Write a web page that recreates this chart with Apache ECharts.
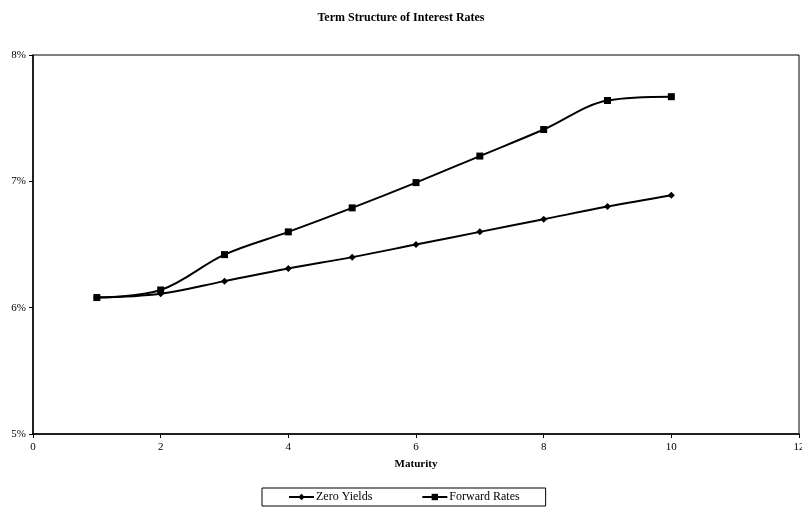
<!DOCTYPE html>
<html>
<head>
<meta charset="utf-8">
<script src="https://cdn.jsdelivr.net/npm/echarts@6/dist/echarts.min.js"></script>
<style>
  html, body { margin: 0; padding: 0; background: #fff; }
  #chart { width: 802px; height: 510px; }
</style>
</head>
<body>
<div id="chart"></div>
<script>
// Maturities (years) and rates (%)
var maturities = [1, 2, 3, 4, 5, 6, 7, 8, 9, 10];
var zeroYields = [6.08, 6.11, 6.21, 6.31, 6.40, 6.50, 6.60, 6.70, 6.80, 6.89];
var forwardRates = [6.08, 6.14, 6.42, 6.60, 6.79, 6.99, 7.20, 7.41, 7.64, 7.67];

function pairs(xs, ys) {
  return xs.map(function (x, i) { return [x, ys[i]]; });
}

var serif = 'Liberation Serif, Times New Roman, serif';
var chart = echarts.init(document.getElementById('chart'));

chart.setOption({
  animation: false,
  backgroundColor: '#fff',
  title: {
    text: 'Term Structure of Interest Rates',
    left: 'center',
    top: 7,
    textStyle: { fontFamily: serif, fontSize: 12, fontWeight: 'bold', color: '#000' }
  },
  grid: {
    left: 33, right: 3, top: 55, bottom: 76,
    containLabel: false,
    outerBoundsMode: 'none',
    show: true, borderColor: '#000', borderWidth: 1
  },
  xAxis: {
    type: 'value',
    min: 0, max: 12, interval: 2,
    name: 'Maturity',
    nameLocation: 'middle',
    nameGap: 25,
    nameTextStyle: { fontFamily: serif, fontSize: 11, fontWeight: 'bold', color: '#000' },
    axisLine: { show: true, lineStyle: { color: '#000', width: 1.5 } },
    axisTick: { show: true, length: 4, lineStyle: { color: '#000' } },
    axisLabel: { fontFamily: serif, fontSize: 11, color: '#000', margin: 8 },
    splitLine: { show: false }
  },
  yAxis: {
    type: 'value',
    min: 5, max: 8, interval: 1,
    axisLine: { show: true, lineStyle: { color: '#000', width: 1.5 } },
    axisTick: { show: true, length: 4, lineStyle: { color: '#000' } },
    axisLabel: { fontFamily: serif, fontSize: 11, color: '#000', margin: 7, formatter: '{value}%' },
    splitLine: { show: false }
  },
  legend: {
    left: 262,
    top: 488,
    padding: [3, 26, 3, 26],
    itemGap: 49,
    itemWidth: 25,
    itemHeight: 8,
    borderColor: '#000',
    borderWidth: 1,
    textStyle: { fontFamily: serif, fontSize: 12, color: '#000', padding: [0, 0, 0, -3] },
    data: ['Zero Yields', 'Forward Rates']
  },
  series: [
    {
      name: 'Zero Yields',
      type: 'line',
      data: pairs(maturities, zeroYields),
      smooth: 0.35,
      symbol: 'diamond',
      symbolSize: 7,
      itemStyle: { color: '#000' },
      lineStyle: { color: '#000', width: 2 }
    },
    {
      name: 'Forward Rates',
      type: 'line',
      data: pairs(maturities, forwardRates),
      smooth: 0.35,
      symbol: 'rect',
      symbolSize: 7,
      itemStyle: { color: '#000' },
      lineStyle: { color: '#000', width: 2 }
    }
  ]
});
</script>
</body>
</html>
